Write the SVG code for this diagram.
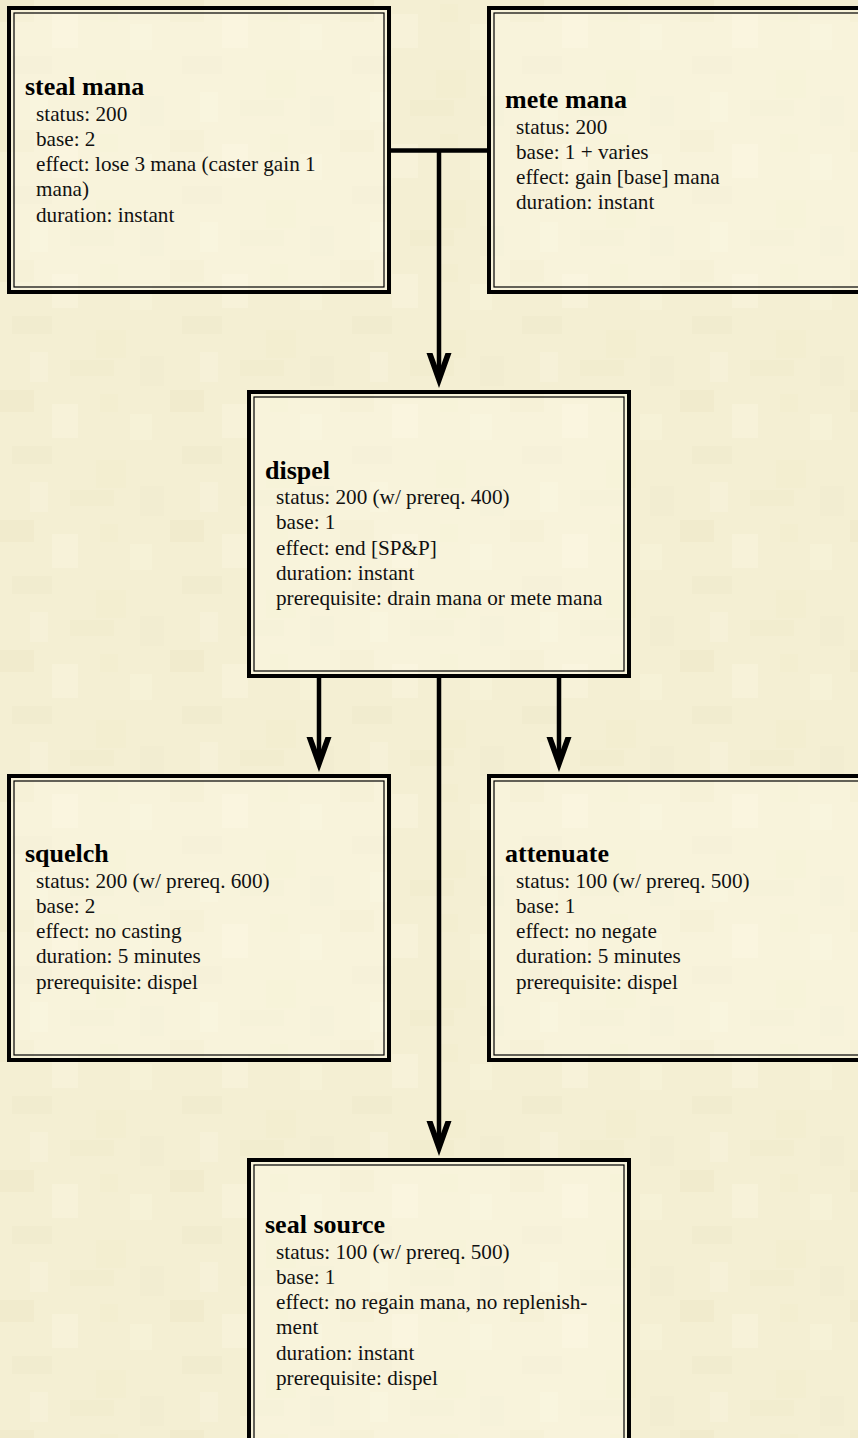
<svg xmlns="http://www.w3.org/2000/svg" width="858" height="1438" viewBox="0 0 858 1438">
<style>
.outer{fill:#FFFDEB;fill-opacity:0.35;stroke:#000;stroke-width:4}
.inner{fill:none;stroke:#000;stroke-width:1.2}
.title{font-family:"Liberation Serif","Times New Roman",serif;font-size:26px;font-weight:bold;fill:#000}
.body{font-family:"Liberation Serif","Times New Roman",serif;font-size:21.2px;fill:#111}
.conn{fill:none;stroke:#000;stroke-width:4.5}
</style>
<defs>
<pattern id="tex" width="170" height="130" patternUnits="userSpaceOnUse">
<rect width="170" height="130" fill="#F4EFD3"/>
<rect x="0" y="0" width="34" height="22" fill="#EDE7C6" opacity="0.45"/>
<rect x="52" y="14" width="26" height="34" fill="#F8F4DD" opacity="0.6"/>
<rect x="12" y="56" width="40" height="18" fill="#EEE8C9" opacity="0.4"/>
<rect x="96" y="70" width="30" height="28" fill="#EFE9CA" opacity="0.35"/>
<rect x="130" y="24" width="22" height="26" fill="#F7F3DA" opacity="0.55"/>
<rect x="70" y="100" width="44" height="16" fill="#EEE8C8" opacity="0.35"/>
<rect x="140" y="96" width="24" height="30" fill="#F1EBCD" opacity="0.4"/>
<rect x="30" y="92" width="18" height="30" fill="#F8F4DE" opacity="0.5"/>
<rect x="100" y="4" width="18" height="18" fill="#EFE9CA" opacity="0.35"/>
</pattern>
<marker id="ah" markerUnits="userSpaceOnUse" markerWidth="1" markerHeight="1" refX="-16" refY="0" orient="auto" overflow="visible">
<path d="M0,0 L-35,-12.5 L-35,-6.5 L-17,0 L-35,6.5 L-35,12.5 Z" fill="#000"/>
</marker>
</defs>
<rect width="858" height="1438" fill="url(#tex)"/>

<g id="connectors">
<path class="conn" d="M389,150.5 H489"/>
<path class="conn" d="M439,150.5 V372" marker-end="url(#ah)"/>
<path class="conn" d="M319,676 V756" marker-end="url(#ah)"/>
<path class="conn" d="M559,676 V756" marker-end="url(#ah)"/>
<path class="conn" d="M439,676 V1140" marker-end="url(#ah)"/>
</g>

<g id="steal-mana">
<rect class="outer" x="9" y="8" width="380" height="284"/>
<rect class="inner" x="14" y="13" width="370" height="274"/>
<text class="title" x="25" y="95">steal mana</text>
<text class="body" x="36" y="120.5">status: 200</text>
<text class="body" x="36" y="145.8">base: 2</text>
<text class="body" x="36" y="171.1">effect: lose 3 mana (caster gain 1</text>
<text class="body" x="36" y="196.4">mana)</text>
<text class="body" x="36" y="221.7">duration: instant</text>
</g>

<g id="mete-mana">
<rect class="outer" x="489" y="8" width="380" height="284"/>
<rect class="inner" x="494" y="13" width="370" height="274"/>
<text class="title" x="505" y="108">mete mana</text>
<text class="body" x="516" y="133.5">status: 200</text>
<text class="body" x="516" y="158.8">base: 1 + varies</text>
<text class="body" x="516" y="184.1">effect: gain [base] mana</text>
<text class="body" x="516" y="209.4">duration: instant</text>
</g>

<g id="dispel">
<rect class="outer" x="249" y="392" width="380" height="284"/>
<rect class="inner" x="254" y="397" width="370" height="274"/>
<text class="title" x="265" y="478.5">dispel</text>
<text class="body" x="276" y="504">status: 200 (w/ prereq. 400)</text>
<text class="body" x="276" y="529.3">base: 1</text>
<text class="body" x="276" y="554.6">effect: end [SP&amp;P]</text>
<text class="body" x="276" y="579.9">duration: instant</text>
<text class="body" x="276" y="605.2">prerequisite: drain mana or mete mana</text>
</g>

<g id="squelch">
<rect class="outer" x="9" y="776" width="380" height="284"/>
<rect class="inner" x="14" y="781" width="370" height="274"/>
<text class="title" x="25" y="862">squelch</text>
<text class="body" x="36" y="887.5">status: 200 (w/ prereq. 600)</text>
<text class="body" x="36" y="912.8">base: 2</text>
<text class="body" x="36" y="938.1">effect: no casting</text>
<text class="body" x="36" y="963.4">duration: 5 minutes</text>
<text class="body" x="36" y="988.7">prerequisite: dispel</text>
</g>

<g id="attenuate">
<rect class="outer" x="489" y="776" width="380" height="284"/>
<rect class="inner" x="494" y="781" width="370" height="274"/>
<text class="title" x="505" y="862">attenuate</text>
<text class="body" x="516" y="887.5">status: 100 (w/ prereq. 500)</text>
<text class="body" x="516" y="912.8">base: 1</text>
<text class="body" x="516" y="938.1">effect: no negate</text>
<text class="body" x="516" y="963.4">duration: 5 minutes</text>
<text class="body" x="516" y="988.7">prerequisite: dispel</text>
</g>

<g id="seal-source">
<rect class="outer" x="249" y="1160" width="380" height="284"/>
<rect class="inner" x="254" y="1165" width="370" height="274"/>
<text class="title" x="265" y="1233">seal source</text>
<text class="body" x="276" y="1258.5">status: 100 (w/ prereq. 500)</text>
<text class="body" x="276" y="1283.8">base: 1</text>
<text class="body" x="276" y="1309.1">effect: no regain mana, no replenish-</text>
<text class="body" x="276" y="1334.4">ment</text>
<text class="body" x="276" y="1359.7">duration: instant</text>
<text class="body" x="276" y="1385">prerequisite: dispel</text>
</g>
</svg>
